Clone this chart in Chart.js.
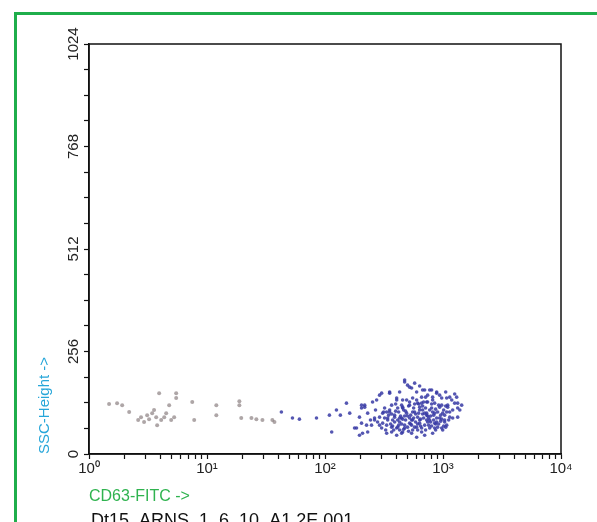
<!DOCTYPE html>
<html>
<head>
<meta charset="utf-8">
<script src="https://cdn.jsdelivr.net/npm/chart.js@4.4.1/dist/chart.umd.min.js"></script>
<style>
  html, body { margin: 0; padding: 0; background: #fff; }
  #wrap { width: 597px; height: 522px; }
</style>
</head>
<body>
<div id="wrap"><canvas id="flowChart" width="597" height="522"></canvas></div>
<script>
// Events: FITC (log) vs SSC-Height (linear)
const grayX = [1.48, 1.73, 1.91, 2.19, 2.61, 2.76, 2.93, 3.11, 3.23, 3.43, 3.56, 3.71, 3.78, 3.93, 4.09, 4.34, 4.51, 4.78, 4.97, 5.27, 5.48, 5.48, 7.5, 7.79, 12, 12, 18.8, 18.8, 19.5, 23.8, 26.2, 29.5, 35.8, 37.3];
const grayY = [125, 127, 122, 105, 85, 92, 80, 97, 87, 102, 110, 92, 72, 152, 85, 92, 102, 122, 85, 92, 152, 140, 130, 85, 122, 97, 132, 122, 90, 90, 87, 85, 85, 80];

const blueX = [
  42.7, 53, 60.7, 84.7, 109, 114, 125,
  152, 135, 162, 204, 217, 196, 230, 274, 302, 353, 405, 367, 320, 263, 279, 178, 204, 196, 230, 302, 333, 340, 389, 429, 367, 413, 455, 248, 308, 353, 446,
  473, 542, 598, 699, 801, 884, 741, 659, 553, 492, 455, 521, 610, 727, 817, 975, 1140, 1306, 1256, 1096, 937, 801, 672, 575, 492, 446, 521, 610, 727, 850, 994, 1140, 1332, 1440, 1332, 1208, 1033, 884, 741, 634, 542, 473, 455, 553, 659, 771, 901, 1075, 817, 699, 598, 994,
  473, 521, 672, 771, 884, 937, 1075, 1332, 1208, 204, 217, 253, 290, 353, 405, 455, 521, 598, 659, 741, 850, 975, 1096, 185, 208, 225, 263, 290, 308, 340, 367, 389, 429, 473, 521, 575, 634, 699, 771, 850, 937, 1033, 1140, 553, 634, 727, 817, 353, 413, 333, 405, 542, 659, 429,
  346, 374, 397, 421, 437, 464, 482, 501, 532, 564, 586, 622, 646, 685, 712, 756, 786, 833, 866, 919, 956, 1013, 1054, 314, 327, 382, 446, 511, 610, 672, 727, 801, 884, 975, 290, 268, 243, 397, 575, 712, 817, 634, 542, 473, 413, 360, 429, 866, 1033, 771,
  367, 389, 405, 455, 482, 511, 532, 564, 586, 610, 646, 672, 699, 741, 786, 833, 866, 901, 956, 1013, 1075, 1118, 320, 333, 374, 421, 446, 464, 501, 553, 598, 622, 685, 712, 756, 801, 850, 919, 975, 1054, 1186, 1256, 1388, 1054, 575, 634, 501
];
const blueY = [
  105, 90, 87, 90, 97, 55, 110,
  127, 97, 102, 115, 122, 92, 102, 135, 152, 152, 135, 122, 115, 90, 80, 65, 77, 47, 55, 65, 72, 90, 97, 90, 55, 67, 115, 72, 102, 105, 52,
  185, 165, 155, 160, 160, 152, 147, 142, 140, 135, 117, 122, 127, 130, 135, 140, 142, 142, 127, 122, 117, 115, 110, 105, 102, 90, 90, 92, 97, 102, 102, 105, 115, 122, 92, 90, 85, 80, 80, 77, 72, 72, 55, 60, 65, 65, 67, 72, 52, 47, 42, 60,
  180, 167, 160, 160, 155, 147, 140, 127, 110, 122, 117, 130, 147, 155, 140, 135, 130, 135, 127, 130, 127, 122, 117, 65, 52, 72, 85, 92, 77, 85, 67, 92, 80, 65, 77, 67, 85, 72, 85, 77, 90, 80, 92, 105, 110, 102, 105, 110, 115, 52, 47, 52, 55, 155,
  97, 85, 107, 72, 95, 110, 85, 67, 97, 115, 80, 102, 70, 90, 115, 72, 95, 85, 112, 75, 97, 110, 67, 105, 60, 60, 122, 57, 60, 100, 85, 70, 90, 65, 72, 110, 85, 125, 125, 142, 142, 117, 85, 95, 85, 75, 60, 60, 97, 110,
  100, 80, 65, 87, 107, 120, 75, 90, 100, 75, 87, 120, 102, 95, 80, 97, 75, 105, 82, 70, 105, 85, 90, 105, 70, 105, 75, 62, 95, 85, 67, 125, 130, 60, 90, 125, 65, 122, 87, 120, 135, 150, 110, 155, 177, 170, 172
];

// Axis ticks
const yTickValues = [0, 64, 128, 192, 256, 320, 384, 448, 512, 576, 640, 704, 768, 832, 896, 960, 1024];
const yTickLabels = [0, 256, 512, 768, 1024];
const xTickValues = [1, 2, 3, 4, 5, 6, 7, 8, 9, 10, 20, 30, 40, 50, 60, 70, 80, 90, 100, 200, 300, 400, 500, 600, 700, 800, 900, 1000, 2000, 3000, 4000, 5000, 6000, 7000, 8000, 9000, 10000];
const xDecades = [1, 10, 100, 1000, 10000];
const xDecadeLabels = ['10\u2070', '10\u00b9', '10\u00b2', '10\u00b3', '10\u2074'];

const fileName = 'Dt15_ARNS_1_6_10_A1.2E.001';

const greenColor = '#1fae4b',
  titleGreen = '#2fb34f',
  titleCyan = '#27a6d9',
  axisColor = '#111111',
  grayDot = 'rgba(130,118,120,0.65)',
  blueDot = 'rgba(55,58,165,0.85)';
const fontFamily = '"Liberation Sans", Arial, sans-serif';

const toPoints = (xs, ys) => xs.map((x, i) => ({ x: x, y: ys[i] }));

// frame, plot box and sample name
const decorPlugin = {
  id: 'decor',
  beforeDraw(chart) {
    const ctx = chart.ctx;
    ctx.save();
    ctx.fillStyle = '#fff';
    ctx.fillRect(0, 0, chart.width, chart.height);
    ctx.strokeStyle = greenColor;
    ctx.lineWidth = 3;
    ctx.strokeRect(15.5, 13.5, 800, 800);
    ctx.restore();
  },
  afterDraw(chart) {
    const ctx = chart.ctx;
    const a = chart.chartArea;
    ctx.save();
    ctx.strokeStyle = axisColor;
    ctx.lineWidth = 1.5;
    ctx.strokeRect(a.left, a.top, a.right - a.left, a.bottom - a.top);
    ctx.fillStyle = '#111';
    ctx.font = '18px ' + fontFamily;
    ctx.textBaseline = 'alphabetic';
    ctx.fillText(fileName, a.left + 2, 526);
    ctx.restore();
  }
};

new Chart(document.getElementById('flowChart'), {
  type: 'scatter',
  data: {
    datasets: [
      {
        data: toPoints(grayX, grayY),
        backgroundColor: grayDot,
        borderWidth: 0,
        pointRadius: 2
      },
      {
        data: toPoints(blueX, blueY),
        backgroundColor: blueDot,
        borderWidth: 0,
        pointRadius: 1.8
      }
    ]
  },
  options: {
    responsive: false,
    animation: false,
    layout: {
      padding: { left: 16, top: 44, right: 36, bottom: 14 }
    },
    plugins: {
      legend: { display: false },
      tooltip: { enabled: false }
    },
    scales: {
      x: {
        type: 'logarithmic',
        min: 1,
        max: 10000,
        afterBuildTicks: function (scale) {
          scale.ticks = xTickValues.map(v => ({ value: v }));
        },
        afterFit: function (scale) {
          scale.height = 54;
        },
        border: { display: true, color: axisColor, width: 1.5 },
        grid: {
          drawOnChartArea: false,
          drawTicks: true,
          tickLength: 5,
          tickColor: axisColor,
          tickWidth: 1.2
        },
        ticks: {
          autoSkip: false,
          maxRotation: 0,
          minRotation: 0,
          padding: 1,
          color: '#222',
          font: { family: fontFamily, size: 15 },
          callback: function (value) {
            const i = xDecades.indexOf(value);
            return i >= 0 ? xDecadeLabels[i] : '';
          }
        },
        title: {
          display: true,
          text: 'CD63-FITC ->',
          align: 'start',
          color: titleGreen,
          font: { family: fontFamily, size: 16 },
          padding: { top: 0, bottom: 2 }
        }
      },
      y: {
        min: 0,
        max: 1024,
        afterBuildTicks: function (scale) {
          scale.ticks = yTickValues.map(v => ({ value: v }));
        },
        afterFit: function (scale) {
          scale.width = 73;
        },
        border: { display: true, color: axisColor, width: 1.5 },
        grid: {
          drawOnChartArea: false,
          drawTicks: true,
          tickLength: 5,
          tickColor: axisColor,
          tickWidth: 1.2
        },
        ticks: {
          autoSkip: false,
          minRotation: 90,
          maxRotation: 90,
          crossAlign: 'center',
          padding: -7,
          color: '#222',
          font: { family: fontFamily, size: 15 },
          callback: function (value) {
            return yTickLabels.indexOf(value) >= 0 ? String(value) : '';
          }
        },
        title: {
          display: true,
          text: 'SSC-Height ->',
          align: 'start',
          color: titleCyan,
          font: { family: fontFamily, size: 15 },
          padding: { top: 20, bottom: 0 }
        }
      }
    }
  },
  plugins: [decorPlugin]
});
</script>
</body>
</html>
